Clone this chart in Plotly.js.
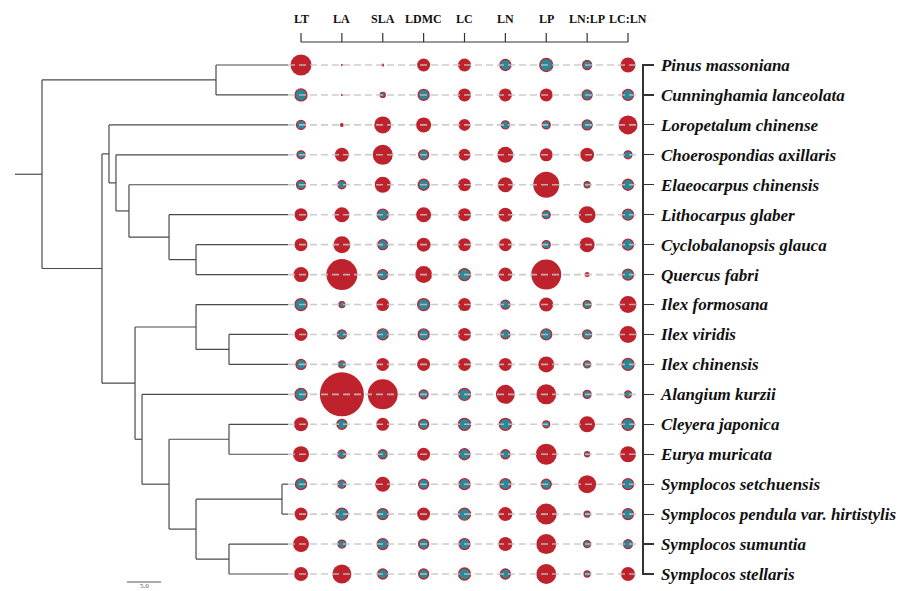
<!DOCTYPE html>
<html>
<head>
<meta charset="utf-8">
<script src="https://cdn.plot.ly/plotly-3.0.1.min.js"></script>
<style>html,body{margin:0;padding:0;background:#fff;}#chart{width:901px;height:591px;}</style>
</head>
<body>
<div id="chart"></div>
<script>
// ---------------- data ----------------
const species = [
  'Pinus massoniana','Cunninghamia lanceolata','Loropetalum chinense','Choerospondias axillaris',
  'Elaeocarpus chinensis','Lithocarpus glaber','Cyclobalanopsis glauca','Quercus fabri',
  'Ilex formosana','Ilex viridis','Ilex chinensis','Alangium kurzii','Cleyera japonica',
  'Eurya muricata','Symplocos setchuensis','Symplocos pendula var. hirtistylis',
  'Symplocos sumuntia','Symplocos stellaris'
];
const traits = ['LT','LA','SLA','LDMC','LC','LN','LP','LN:LP','LC:LN'];

// signed bubble magnitudes (positive = red, negative = teal)
const LT    = [21,-12,-9,-8,-9,13,13,15,-12,13,-10,-12,14,16,-11,13,16,14];
const LA    = [2,2,4,14,-8,15,17,31,-6,-9,-7,44,-10,-8,-8,-12,-8,19];
const SLA   = [3,-5,17,20,16,-11,-10,-10,13,-11,13,30,13,-9,15,-11,-11,-10];
const LDMC  = [13,-11,15,-10,-11,15,14,17,-12,-11,13,-9,-10,13,-10,13,-10,-10];
const LC    = [13,13,12,12,13,13,13,-12,13,13,13,-12,-12,-11,-11,-12,-11,-12];
const LN    = [-11,13,-8,16,15,14,13,14,-9,-9,13,19,-12,-9,-11,14,14,-10];
const LP    = [-13,13,-8,13,26,-8,-8,30,14,-11,16,20,-7,21,-10,21,20,20];
const LN_LP = [-9,-10,-10,14,-6,17,15,5,-8,-9,-7,-8,16,-5,18,-6,-7,-6];
const LC_LN = [15,-11,19,-8,-11,-11,-11,-11,17,17,-12,-7,-12,16,-11,-11,-9,14];
const traitValues = [LT, LA, SLA, LDMC, LC, LN, LP, LN_LP, LC_LN];

// phylogeny: internal node = [nodeHeight, child, child]; leaf = species index
const leafDepth = 36.18;
const rootStem = -3.97;
const tree = [0,
  [25.59, 0, 1],
  [8.82,
    [9.85, 2, [10.88, 3, [12.79, 4, [18.68, 5, [22.65, 6, 7]]]]],
    [13.68,
      [22.65, 8, [27.5, 9, 10]],
      [14.71, 11, [18.68, [27.5, 12, 13], [22.65, [35.29, 14, 15], [27.5, 16, 17]]]]
    ]
  ]
];
const scaleBar = {from: 12.5, length: 5, label: '5.0'};

// ---------------- tree geometry ----------------
const tx = [], ty = [];
function nodeY(n) {
  if (typeof n === 'number') return n;
  const ys = n.slice(1).map(nodeY);
  return (ys[0] + ys[ys.length - 1]) / 2;
}
function nodeH(n) { return typeof n === 'number' ? leafDepth : n[0]; }
function walk(n) {
  if (typeof n === 'number') return;
  const h = n[0];
  const kids = n.slice(1);
  const ys = kids.map(nodeY);
  tx.push(h, h, null); ty.push(ys[0], ys[ys.length - 1], null);
  kids.forEach((k, i) => {
    tx.push(h, nodeH(k), null); ty.push(ys[i], ys[i], null);
    walk(k);
  });
}
walk(tree);
const rootY = nodeY(tree);
tx.push(rootStem, 0, null); ty.push(rootY, rootY, null);

// ---------------- layout constants ----------------
const W = 901, H = 591;
const rowTop = 65, rowStep = (574 - 65) / 17;
const colLeft = 301, colStep = (628 - 301) / 8;
const treeX0 = 42, treeUnit = 6.8;
const rowLineEnd = (636 - treeX0) / treeUnit;

const treeRange = [(0 - treeX0) / treeUnit, (W - treeX0) / treeUnit];
const colRange = [(0 - colLeft) / colStep, (W - colLeft) / colStep];
const pad = 1 / rowStep;
const yDomain = [(H - 575) / H, (H - 64) / H];
const py = p => (H - p) / H;

// ---------------- traces ----------------
const red = '#BE222C', teal = '#2B8898';
const rx = [], ry = [], rs = [], gx = [], gy = [], gs = [];
traits.forEach((t, j) => {
  traitValues[j].forEach((v, i) => {
    if (v >= 0) { rx.push(t); ry.push(i); rs.push(v); }
    else { gx.push(t); gy.push(i); gs.push(-v); }
  });
});

const dx = [], dy = [];
species.forEach((s, i) => { dx.push(leafDepth, rowLineEnd, null); dy.push(i, i, null); });

const data = [
  {type: 'scatter', mode: 'lines', x: tx, y: ty, xaxis: 'x', yaxis: 'y',
   line: {color: '#4a4a4a', width: 1.2}, hoverinfo: 'skip', showlegend: false},
  {type: 'scatter', mode: 'markers', x: rx, y: ry, xaxis: 'x2', yaxis: 'y', cliponaxis: false,
   marker: {size: rs, sizemode: 'diameter', color: red, opacity: 1, line: {color: red, width: 0}},
   hoverinfo: 'skip', showlegend: false},
  {type: 'scatter', mode: 'markers', x: gx, y: gy, xaxis: 'x2', yaxis: 'y', cliponaxis: false,
   marker: {size: gs, sizemode: 'diameter', color: teal, opacity: 1, line: {color: red, width: 1.3}},
   hoverinfo: 'skip', showlegend: false},
  {type: 'scatter', mode: 'lines', x: dx, y: dy, xaxis: 'x3', yaxis: 'y',
   line: {color: 'rgba(195,195,195,0.85)', width: 1.6, dash: '7px,4px'},
   hoverinfo: 'skip', showlegend: false}
];

// ---------------- top axis (shapes + labels) ----------------
const axisCol = '#333';
const shapes = [
  {type: 'line', xref: 'x2', yref: 'paper', x0: 0, x1: traits.length - 1, y0: py(42), y1: py(42),
   line: {color: axisCol, width: 1.2}},
  {type: 'line', xref: 'x', yref: 'paper', x0: scaleBar.from, x1: scaleBar.from + scaleBar.length,
   y0: py(582), y1: py(582), line: {color: '#555', width: 1}}
];
const annotations = [];
traits.forEach((t, j) => {
  shapes.push({type: 'line', xref: 'x2', yref: 'paper', x0: j, x1: j, y0: py(42), y1: py(33),
    line: {color: axisCol, width: 1.2}});
  annotations.push({xref: 'x2', yref: 'paper', x: j, y: py(19), text: '<b>' + t + '</b>',
    showarrow: false, xanchor: 'center', yanchor: 'middle',
    font: {family: 'Liberation Serif', size: 12, color: '#111'}});
});
annotations.push({xref: 'x', yref: 'paper', x: scaleBar.from + scaleBar.length / 2, y: py(580.5),
  text: scaleBar.label, showarrow: false, xanchor: 'center', yanchor: 'top', borderpad: 0,
  font: {family: 'Liberation Serif', size: 7, color: '#555'}});

const layout = {
  width: W, height: H,
  margin: {l: 0, r: 0, t: 0, b: 0, pad: 0},
  paper_bgcolor: '#fff', plot_bgcolor: 'rgba(0,0,0,0)',
  showlegend: false,
  xaxis: {domain: [0, 1], range: treeRange, visible: false, fixedrange: true},
  xaxis2: {overlaying: 'x', type: 'category', categoryarray: traits, categoryorder: 'array',
           range: colRange, visible: false, fixedrange: true},
  xaxis3: {overlaying: 'x', range: treeRange, visible: false, fixedrange: true},
  yaxis: {domain: yDomain, range: [17 + pad, -pad], anchor: 'free', position: 642 / W, side: 'right',
          showgrid: false, zeroline: false, showline: true, linecolor: axisCol, linewidth: 1.5,
          ticks: 'outside', ticklen: 10, tickwidth: 1.2, tickcolor: axisCol,
          tickmode: 'array', tickvals: species.map((s, i) => i),
          ticktext: species.map(s => '<b><i>' + s + '</i></b>'),
          tickfont: {family: 'Liberation Serif', size: 17, color: '#111'},
          ticklabelstandoff: 4, fixedrange: true},
  shapes: shapes,
  annotations: annotations
};

Plotly.newPlot('chart', data, layout, {displayModeBar: false, staticPlot: true});
</script>
</body>
</html>
